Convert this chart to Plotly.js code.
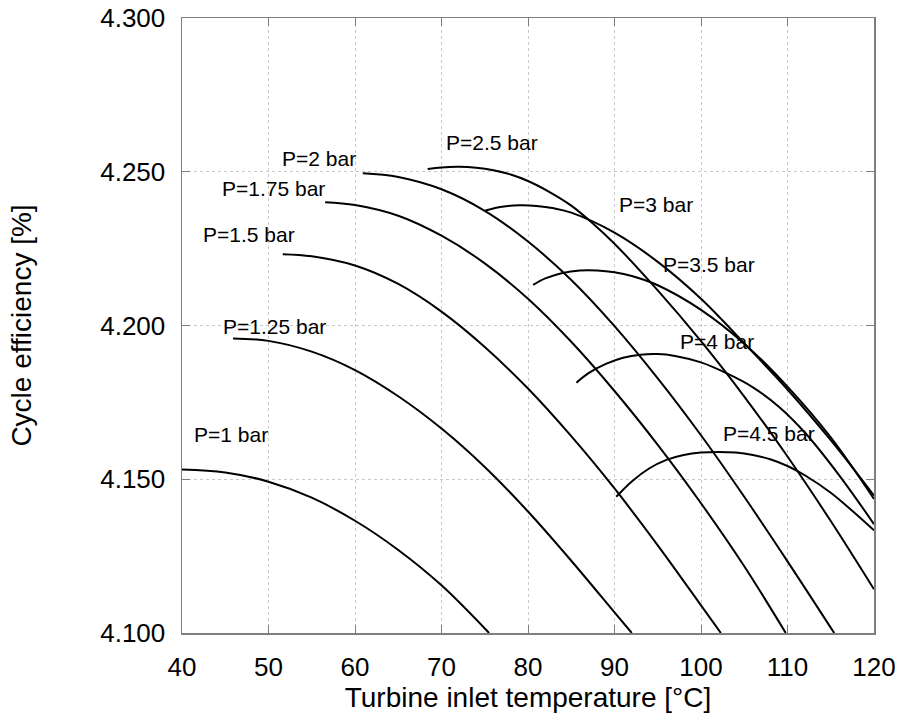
<!DOCTYPE html>
<html>
<head>
<meta charset="utf-8">
<script src="https://cdn.plot.ly/plotly-3.0.1.min.js"></script>
<style>
  html, body { margin: 0; padding: 0; background: #fff; }
  #chart { width: 904px; height: 722px; }
</style>
</head>
<body>
<div id="chart"></div>
<script>
// Turbine inlet temperature [°C] and cycle efficiency [%] per pressure curve
const p1_x   = [40, 45, 50, 55, 60, 65, 70, 75.5];
const p1_y   = [4.1532, 4.1522, 4.1492, 4.1440, 4.1365, 4.1270, 4.1155, 4.1000];
const p125_x = [45.9, 50, 55, 60, 65, 70, 75, 80, 85, 90, 92.0];
const p125_y = [4.1958, 4.1950, 4.1915, 4.1855, 4.1770, 4.1665, 4.1540, 4.1395, 4.1235, 4.1067, 4.1000];
const p15_x  = [51.65, 55, 60, 65, 70, 75, 80, 85, 90, 95, 100, 102.3];
const p15_y  = [4.2232, 4.2225, 4.2195, 4.2135, 4.2045, 4.1930, 4.1795, 4.1640, 4.1470, 4.1285, 4.1090, 4.1000];
const p175_x = [56.55, 60, 65, 70, 75, 80, 85, 90, 95, 100, 105, 109.8];
const p175_y = [4.2401, 4.2392, 4.2357, 4.2292, 4.2202, 4.2087, 4.1947, 4.1787, 4.1612, 4.1422, 4.1217, 4.1000];
const p2_x   = [60.9, 65, 70, 75, 80, 85, 90, 95, 100, 105, 110, 115.4];
const p2_y   = [4.2495, 4.2483, 4.2443, 4.2373, 4.2273, 4.2148, 4.1998, 4.1828, 4.1643, 4.1443, 4.1233, 4.1000];
const p25_x  = [68.4, 70, 72, 74, 76, 78, 80, 82.5, 85, 87.5, 90, 95, 100, 105, 110, 115, 120];
const p25_y  = [4.2509, 4.2514, 4.2516, 4.2513, 4.2505, 4.2491, 4.2470, 4.2434, 4.2390, 4.2332, 4.2266, 4.2114, 4.1949, 4.1769, 4.1574, 4.1364, 4.1142];
const p3_x   = [75.07, 77, 79, 81, 83, 85, 90, 95, 100, 105, 110, 115, 120];
const p3_y   = [4.2374, 4.2386, 4.2391, 4.2389, 4.2381, 4.2367, 4.2302, 4.2207, 4.2087, 4.1942, 4.1792, 4.1627, 4.1447];
const p35_x  = [80.6, 82, 84, 86, 88, 90, 92, 95, 100, 105, 110, 115, 120];
const p35_y  = [4.2132, 4.2153, 4.2171, 4.2179, 4.2179, 4.2173, 4.2161, 4.2131, 4.2051, 4.1941, 4.1801, 4.1636, 4.1436];
const p4_x   = [85.6, 87, 89, 91, 93, 95, 97, 100, 103, 106, 109, 112, 116, 120];
const p4_y   = [4.1814, 4.1845, 4.1875, 4.1895, 4.1905, 4.1907, 4.1901, 4.1880, 4.1844, 4.1799, 4.1736, 4.1652, 4.1512, 4.1354];
const p45_x  = [90.2, 92, 94, 96, 98, 100, 102, 104, 106, 108, 110, 112, 115, 120];
const p45_y  = [4.1443, 4.1493, 4.1535, 4.1563, 4.1579, 4.1587, 4.1589, 4.1587, 4.1579, 4.1565, 4.1543, 4.1513, 4.1456, 4.1334];

const curveNames = ["P=1 bar", "P=1.25 bar", "P=1.5 bar", "P=1.75 bar", "P=2 bar",
                    "P=2.5 bar", "P=3 bar", "P=3.5 bar", "P=4 bar", "P=4.5 bar"];
const curveX = [p1_x, p125_x, p15_x, p175_x, p2_x, p25_x, p3_x, p35_x, p4_x, p45_x];
const curveY = [p1_y, p125_y, p15_y, p175_y, p2_y, p25_y, p3_y, p35_y, p4_y, p45_y];

// label anchor positions (data coordinates)
const labelX = [45.65, 50.67, 47.78, 50.57, 55.78, 75.84, 94.75, 100.9, 101.8, 107.86];
const labelY = [4.1644, 4.1996, 4.2295, 4.2447, 4.2544, 4.2596, 4.2392, 4.2197, 4.1947, 4.1649];

const xTicks = [40, 50, 60, 70, 80, 90, 100, 110, 120];
const yTicks = [4.100, 4.150, 4.200, 4.250, 4.300];

const FONT = "Liberation Sans, Arial, Helvetica, sans-serif";

const traces = curveNames.map((n, i) => ({
  type: "scatter",
  mode: "lines",
  name: n,
  x: curveX[i],
  y: curveY[i],
  line: { color: "#000000", width: 2, shape: "spline", smoothing: 1 },
  hoverinfo: "skip",
  showlegend: false
}));

const annotations = curveNames.map((n, i) => ({
  x: labelX[i], y: labelY[i], xref: "x", yref: "y",
  text: n, showarrow: false,
  font: { family: FONT, size: 21, color: "#000" },
  xanchor: "center", yanchor: "middle"
}));

const axisCommon = {
  showline: true, mirror: "ticks", linecolor: "#7f7f7f", linewidth: 1.5,
  ticks: "inside", ticklen: 8, tickcolor: "#7f7f7f", tickwidth: 1,
  showgrid: true, gridcolor: "#c8c8c8", griddash: "dot", gridwidth: 1,
  zeroline: false,
  tickfont: { family: FONT, size: 26, color: "#000" }
};

const layout = {
  width: 904, height: 722,
  margin: { l: 182, r: 30, t: 18, b: 89, pad: 0 },
  paper_bgcolor: "#ffffff", plot_bgcolor: "#ffffff",
  showlegend: false,
  xaxis: Object.assign({}, axisCommon, {
    range: [40, 120], tickmode: "array", tickvals: xTicks,
    ticktext: xTicks.map(String),
    ticklabelstandoff: 10,
    title: { text: "Turbine inlet temperature [°C]", font: { family: FONT, size: 28, color: "#000" }, standoff: 6 }
  }),
  yaxis: Object.assign({}, axisCommon, {
    range: [4.1, 4.3], tickmode: "array", tickvals: yTicks,
    ticktext: yTicks.map(v => v.toFixed(3)),
    ticklabelstandoff: 10,
    title: { text: "Cycle efficiency [%]", font: { family: FONT, size: 28, color: "#000" }, standoff: 60 }
  }),
  annotations: annotations
};

Plotly.newPlot("chart", traces, layout, { staticPlot: true, displayModeBar: false });
</script>
</body>
</html>
